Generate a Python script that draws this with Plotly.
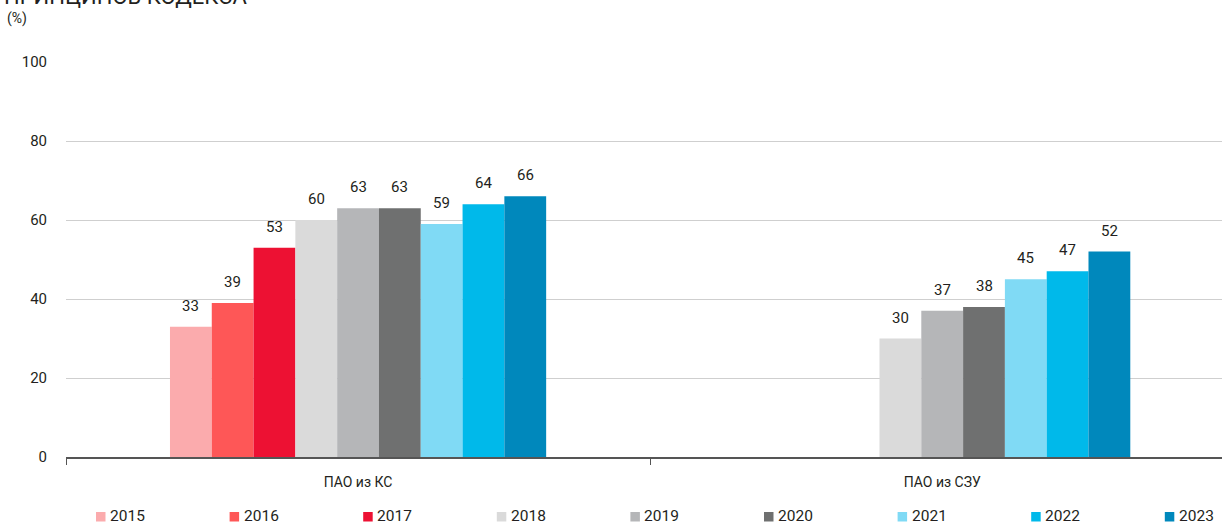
import plotly.graph_objects as go

# Categories and yearly series (share, %)
categories = ["ПАО из КС", "ПАО из СЗУ"]
years = ["2015", "2016", "2017", "2018", "2019", "2020", "2021", "2022", "2023"]
values_2015 = [33, None]
values_2016 = [39, None]
values_2017 = [53, None]
values_2018 = [60, 30]
values_2019 = [63, 37]
values_2020 = [63, 38]
values_2021 = [59, 45]
values_2022 = [64, 47]
values_2023 = [66, 52]
series = [values_2015, values_2016, values_2017, values_2018, values_2019,
          values_2020, values_2021, values_2022, values_2023]
colors = ["#FBABAD", "#FE5757", "#ED1133", "#DADADA", "#B5B6B8",
          "#6F7070", "#80DAF5", "#00B9EA", "#0088BC"]
y_ticks = [0, 20, 40, 60, 80, 100]

FONT = "Roboto, 'Open Sans', sans-serif"
TEXT = "#231F20"

# Plot-area geometry in pixels
W, H = 1222, 527
M_L, M_R, M_T, M_B = 66, 0, 62, 70
PW = W - M_L - M_R
PH = H - M_T - M_B
BARGAP = 0.356
n_series = len(series)
bar_w = (1 - BARGAP) / n_series


def px_to_paper_x(px):
    return (px - M_L) / PW


def px_to_paper_y(py):
    return (H - M_B - py) / PH


fig = go.Figure()
for year, vals, col in zip(years, series, colors):
    fig.add_trace(go.Bar(
        name=year,
        x=categories,
        y=vals,
        marker=dict(color=col, line=dict(width=0)),
        showlegend=False,
        hoverinfo="x+y+name",
    ))

# Value labels above each bar
for i, vals in enumerate(series):
    offset = (i - (n_series - 1) / 2) * bar_w
    for c, v in enumerate(vals):
        if v is None:
            continue
        fig.add_annotation(
            x=c + offset, y=v, xref="x", yref="y",
            text=str(v), showarrow=False,
            xanchor="center", yanchor="middle", yshift=21,
            font=dict(size=15, color=TEXT, family=FONT),
        )

# Legend row: colour square + year
LEG_X0, LEG_STEP, LEG_Y = 96, 133.6, 516
for i, (year, col) in enumerate(zip(years, colors)):
    x0 = LEG_X0 + i * LEG_STEP
    fig.add_shape(
        type="rect", xref="paper", yref="paper",
        x0=px_to_paper_x(x0), x1=px_to_paper_x(x0 + 9.5),
        y0=px_to_paper_y(LEG_Y + 5.5), y1=px_to_paper_y(LEG_Y - 4),
        fillcolor=col, line=dict(width=0),
    )
    fig.add_annotation(
        text=year, xref="paper", yref="paper",
        x=px_to_paper_x(x0 + 12), y=px_to_paper_y(LEG_Y),
        xanchor="left", yanchor="middle", showarrow=False,
        font=dict(size=15.5, color=TEXT, family=FONT),
    )

fig.update_layout(
    width=W,
    height=H,
    autosize=False,
    barmode="group",
    bargap=BARGAP,
    bargroupgap=0,
    plot_bgcolor="white",
    paper_bgcolor="white",
    margin=dict(l=M_L, r=M_R, t=M_T, b=M_B, autoexpand=False),
    font=dict(family=FONT, size=14, color=TEXT),
    showlegend=False,
)

fig.update_xaxes(
    type="category",
    range=[-0.5, 1.479],
    showgrid=False,
    showline=True,
    linecolor="#555555",
    linewidth=1.5,
    ticks="outside",
    tickson="boundaries",
    ticklen=6,
    tickcolor="#555555",
    tickwidth=1,
    tickfont=dict(size=14, color=TEXT, family=FONT),
    ticklabelstandoff=11,
)

fig.update_yaxes(
    range=[0, 100],
    tickvals=y_ticks,
    showgrid=True,
    gridcolor="#CFCFCF",
    gridwidth=1,
    zeroline=False,
    showline=False,
    ticks="",
    tickfont=dict(size=15, color=TEXT, family=FONT),
    ticklabelstandoff=18,
)

# Heading (top line runs past the upper edge) and unit label
fig.add_annotation(
    text="ПРИНЦИПОВ КОДЕКСА",
    xref="paper", yref="paper",
    x=-0.0555, y=1.128,
    xanchor="left", yanchor="bottom",
    showarrow=False,
    font=dict(size=22, color=TEXT, family=FONT),
)
fig.add_annotation(
    text="(%)",
    xref="paper", yref="paper",
    x=-0.0528, y=1.111,
    xanchor="left", yanchor="middle",
    showarrow=False,
    font=dict(size=14, color=TEXT, family=FONT),
)

fig.write_html("out.html")
